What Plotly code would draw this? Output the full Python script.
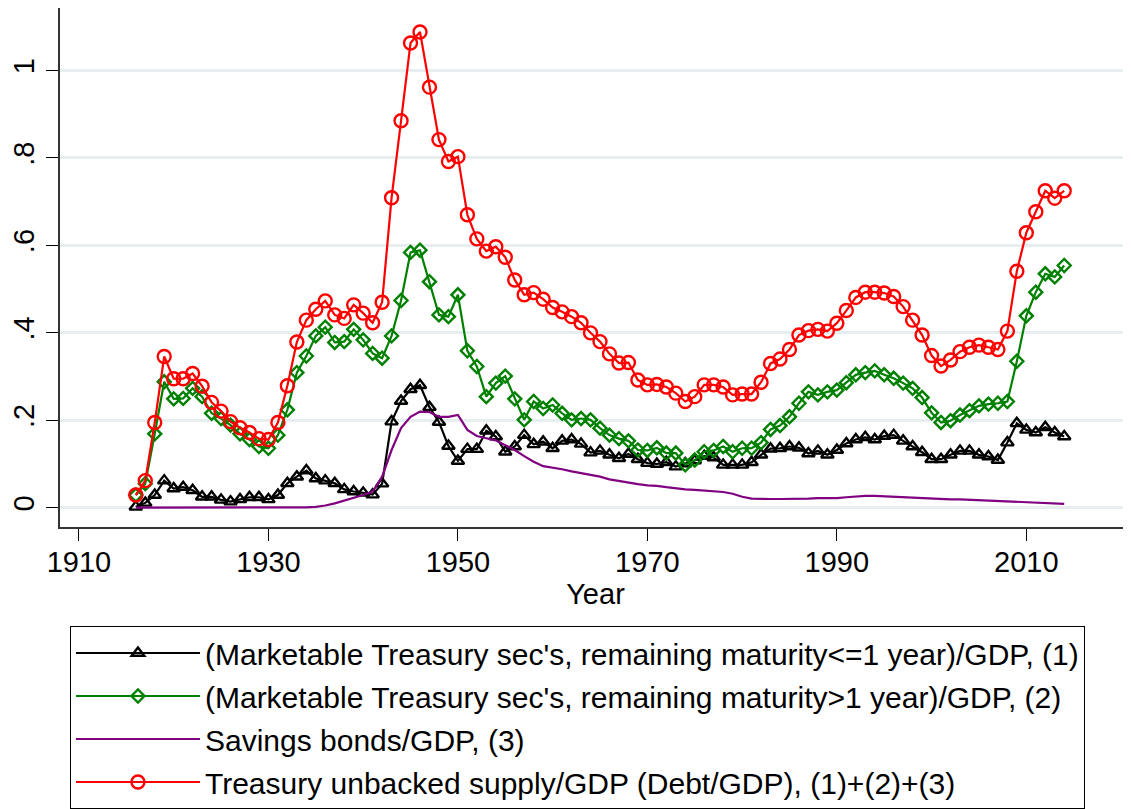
import plotly.graph_objects as go

years = list(range(1916, 2015))

short_term = [
    0.002, 0.011, 0.029, 0.062, 0.044, 0.047, 0.040, 0.025, 0.025, 0.018,  # 1916-1925
    0.014, 0.019, 0.024, 0.024, 0.019, 0.029, 0.056, 0.071, 0.085, 0.067,  # 1926-1935
    0.062, 0.056, 0.042, 0.037, 0.034, 0.030, 0.055, 0.197, 0.244, 0.271,  # 1936-1945
    0.280, 0.230, 0.196, 0.141, 0.107, 0.134, 0.134, 0.176, 0.163, 0.128,  # 1946-1955
    0.140, 0.166, 0.145, 0.151, 0.136, 0.153, 0.156, 0.146, 0.126, 0.130,  # 1956-1965
    0.121, 0.113, 0.123, 0.111, 0.102, 0.100, 0.104, 0.094, 0.101, 0.108,  # 1966-1975
    0.118, 0.115, 0.098, 0.098, 0.098, 0.104, 0.121, 0.135, 0.136, 0.140,  # 1976-1985
    0.137, 0.124, 0.130, 0.121, 0.132, 0.147, 0.156, 0.161, 0.156, 0.164,  # 1986-1995
    0.166, 0.153, 0.140, 0.127, 0.111, 0.111, 0.121, 0.130, 0.130, 0.121,  # 1996-2005
    0.117, 0.109, 0.149, 0.193, 0.178, 0.172, 0.184, 0.172, 0.163,         # 2006-2014
]

long_term = [
    0.029, 0.055, 0.169, 0.288, 0.249, 0.250, 0.273, 0.254, 0.216, 0.204,  # 1916-1925
    0.189, 0.169, 0.156, 0.140, 0.136, 0.166, 0.224, 0.309, 0.347, 0.393,  # 1926-1935
    0.413, 0.378, 0.380, 0.408, 0.384, 0.353, 0.342, 0.393, 0.474, 0.584,  # 1936-1945
    0.589, 0.517, 0.441, 0.437, 0.487, 0.359, 0.323, 0.254, 0.285, 0.301,  # 1946-1955
    0.249, 0.201, 0.243, 0.227, 0.235, 0.216, 0.201, 0.204, 0.201, 0.182,  # 1956-1965
    0.166, 0.158, 0.153, 0.132, 0.131, 0.137, 0.125, 0.125, 0.098, 0.109,  # 1966-1975
    0.128, 0.131, 0.140, 0.128, 0.136, 0.136, 0.149, 0.179, 0.188, 0.208,  # 1976-1985
    0.239, 0.265, 0.258, 0.265, 0.269, 0.286, 0.304, 0.309, 0.313, 0.304,  # 1986-1995
    0.296, 0.285, 0.273, 0.252, 0.217, 0.195, 0.199, 0.212, 0.222, 0.233,  # 1996-2005
    0.237, 0.239, 0.243, 0.335, 0.439, 0.493, 0.535, 0.528, 0.554,         # 2006-2014
]

savings = [
    0.000, 0.000, 0.000, 0.000, 0.000, 0.000, 0.000, 0.000, 0.000, 0.000,  # 1916-1925
    0.000, 0.000, 0.000, 0.000, 0.000, 0.000, 0.000, 0.000, 0.001, 0.002,  # 1926-1935
    0.005, 0.010, 0.016, 0.022, 0.029, 0.037, 0.071, 0.132, 0.182, 0.208,  # 1936-1945
    0.220, 0.219, 0.208, 0.208, 0.212, 0.178, 0.164, 0.159, 0.154, 0.143,  # 1946-1955
    0.132, 0.118, 0.105, 0.095, 0.092, 0.088, 0.083, 0.079, 0.075, 0.071,  # 1956-1965
    0.065, 0.061, 0.057, 0.054, 0.051, 0.050, 0.047, 0.044, 0.042, 0.041,  # 1966-1975
    0.039, 0.038, 0.036, 0.032, 0.025, 0.021, 0.020, 0.020, 0.020, 0.020,  # 1976-1985
    0.020, 0.021, 0.022, 0.022, 0.022, 0.024, 0.026, 0.027, 0.027, 0.026,  # 1986-1995
    0.025, 0.024, 0.023, 0.021, 0.020, 0.019, 0.019, 0.019, 0.018, 0.018,  # 1996-2005
    0.016, 0.015, 0.014, 0.014, 0.013, 0.012, 0.011, 0.010, 0.009,         # 2006-2014
]

total = [
    0.029, 0.062, 0.195, 0.346, 0.295, 0.295, 0.307, 0.278, 0.241, 0.221,  # 1916-1925
    0.197, 0.183, 0.172, 0.158, 0.156, 0.195, 0.279, 0.379, 0.429, 0.454,  # 1926-1935
    0.473, 0.441, 0.433, 0.464, 0.445, 0.423, 0.470, 0.709, 0.885, 1.063,  # 1936-1945
    1.088, 0.962, 0.842, 0.792, 0.803, 0.670, 0.615, 0.587, 0.597, 0.573,  # 1946-1955
    0.521, 0.487, 0.492, 0.477, 0.458, 0.448, 0.437, 0.423, 0.400, 0.380,  # 1956-1965
    0.352, 0.331, 0.332, 0.292, 0.281, 0.282, 0.276, 0.262, 0.243, 0.254,  # 1966-1975
    0.281, 0.281, 0.276, 0.258, 0.260, 0.260, 0.287, 0.330, 0.340, 0.362,  # 1976-1985
    0.395, 0.405, 0.408, 0.404, 0.422, 0.451, 0.481, 0.493, 0.493, 0.491,  # 1986-1995
    0.483, 0.460, 0.429, 0.395, 0.348, 0.324, 0.338, 0.357, 0.367, 0.372,  # 1996-2005
    0.367, 0.362, 0.404, 0.541, 0.629, 0.677, 0.725, 0.708, 0.725,         # 2006-2014
]

names = [
    "(Marketable Treasury sec's, remaining maturity<=1 year)/GDP, (1)",
    "(Marketable Treasury sec's, remaining maturity>1 year)/GDP, (2)",
    "Savings bonds/GDP, (3)",
    "Treasury unbacked supply/GDP (Debt/GDP), (1)+(2)+(3)",
]

y_tick_vals = [0, 0.2, 0.4, 0.6, 0.8, 1]
y_tick_text = ["0", ".2", ".4", ".6", ".8", "1"]
x_tick_vals = [1910, 1930, 1950, 1970, 1990, 2010]

FONT = "Liberation Sans, Arial, Helvetica, sans-serif"

fig = go.Figure()
fig.add_trace(go.Scatter(
    x=years, y=short_term, name=names[0], mode="lines+markers",
    line=dict(color="black", width=2.2),
    marker=dict(symbol="triangle-up-open", size=11, color="black", line=dict(width=2.4)),
    legendgroup="a",
))
fig.add_trace(go.Scatter(
    x=years, y=long_term, name=names[1], mode="lines+markers",
    line=dict(color="#008000", width=2.2),
    marker=dict(symbol="diamond-open", size=10, color="#008000", line=dict(width=2.4)),
    legendgroup="b",
))
fig.add_trace(go.Scatter(
    x=years, y=savings, name=names[2], mode="lines",
    line=dict(color="#800080", width=2.2),
    legendgroup="c",
))
fig.add_trace(go.Scatter(
    x=years, y=total, name=names[3], mode="lines+markers",
    line=dict(color="#ff0000", width=2.2),
    marker=dict(symbol="circle-open", size=13, color="#ff0000", line=dict(width=2.4)),
    legendgroup="d",
))

fig.update_layout(
    width=1123, height=801,
    autosize=False,
    margin=dict(l=49, r=0, t=0, b=282),
    paper_bgcolor="white",
    plot_bgcolor="white",
    font=dict(family=FONT, size=29, color="black"),
    showlegend=True,
    legend=dict(
        x=0.0093, y=-0.1908, xanchor="left", yanchor="top",
        bordercolor="black", borderwidth=1,
        font=dict(family=FONT, size=30, color="black"),
        itemwidth=124,
        tracegroupgap=1,
        traceorder="grouped",
        bgcolor="white",
    ),
    xaxis=dict(
        range=[1908.0, 2021.05],
        tickvals=x_tick_vals,
        ticks="outside", ticklen=12, tickwidth=1, tickcolor="black",
        showline=True, linecolor="#333333", linewidth=2,
        showgrid=False, zeroline=False,
        tickfont=dict(family=FONT, size=29),
        ticklabelstandoff=-4,
        title=dict(text="Year", font=dict(family=FONT, size=29), standoff=0),
    ),
    yaxis=dict(
        range=[-0.0441, 1.143],
        tickvals=y_tick_vals, ticktext=y_tick_text,
        tickangle=-90,
        ticks="outside", ticklen=12, tickwidth=1, tickcolor="black",
        showline=True, linecolor="#333333", linewidth=2,
        showgrid=True, gridcolor="#E6EEF0", gridwidth=2.5,
        zeroline=False,
        tickfont=dict(family=FONT, size=29),
    ),
)

fig.write_html("out.html")
